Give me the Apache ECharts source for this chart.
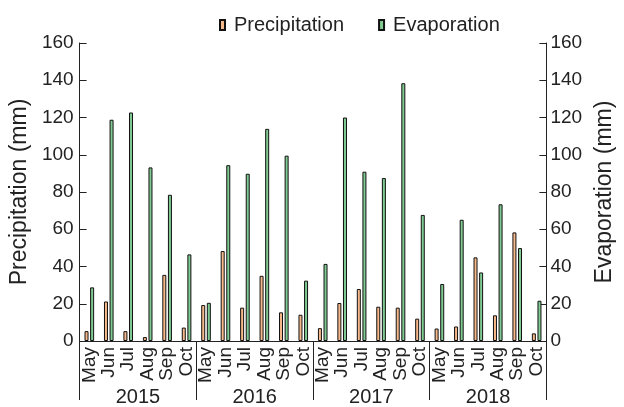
<!DOCTYPE html>
<html>
<head>
<meta charset="utf-8">
<script src="https://cdn.jsdelivr.net/npm/echarts@6/dist/echarts.min.js"></script>
<style>html,body{margin:0;padding:0;background:#fff;}#c{width:624px;height:407px;}</style>
</head>
<body>
<div id="c"></div>
<script>
var years = ['2015', '2016', '2017', '2018'];
var months = ['May', 'Jun', 'Jul', 'Aug', 'Sep', 'Oct'];
var precipitation = [5.3, 21.2, 5.3, 2.1, 35.5, 7.2,
                     19.3, 48.3, 17.9, 35.0, 15.4, 14.1,
                     6.9, 20.4, 27.9, 18.4, 17.9, 12.0,
                     6.7, 7.8, 44.9, 13.8, 58.3, 4.1];
var evaporation = [28.8, 118.8, 122.7, 93.2, 78.5, 46.5,
                   20.5, 94.4, 89.8, 113.9, 99.5, 32.4,
                   41.4, 120.0, 90.9, 87.5, 138.4, 67.7,
                   30.6, 65.1, 36.8, 73.4, 49.9, 21.6];
var yTicks = [0, 20, 40, 60, 80, 100, 120, 140, 160];

var categories = [];
years.forEach(function (y) { months.forEach(function (m) { categories.push(m); }); });

var FONT = "'Liberation Sans', Arial, sans-serif";
var TXT = '#222';
var chart = echarts.init(document.getElementById('c'), null, {renderer: 'canvas'});
var yAxisCommon = {
  type: 'value', min: yTicks[0], max: yTicks[yTicks.length - 1], interval: 20,
  splitLine: {show: false},
  axisLine: {show: true, lineStyle: {color: TXT, width: 1}},
  axisTick: {show: true, inside: true, length: 7, lineStyle: {color: TXT}},
  nameLocation: 'middle',
  nameTextStyle: {fontFamily: FONT, fontSize: 23, color: TXT},
  axisLabel: {fontFamily: FONT, fontSize: 19, color: TXT}
};
chart.setOption({
  animation: false,
  textStyle: {fontFamily: FONT},
  grid: {left: 73, right: 61, top: 43, bottom: 62},
  legend: {
    left: 214, top: 10, itemWidth: 5, itemHeight: 10, itemGap: 34,
    textStyle: {fontFamily: FONT, fontSize: 20, color: TXT, padding: [0, 0, 0, 4]},
    data: [
      {name: 'Precipitation', icon: 'rect'},
      {name: 'Evaporation', icon: 'rect'}
    ]
  },
  xAxis: [
    {
      type: 'category', data: categories, position: 'bottom',
      axisLine: {show: true, lineStyle: {color: TXT, width: 1}},
      axisTick: {show: false},
      axisLabel: {interval: 0, rotate: 90, margin: 6, fontFamily: FONT, fontSize: 19, color: TXT}
    },
    {
      type: 'category', data: years, position: 'bottom', boundaryGap: true,
      axisLine: {show: false},
      axisTick: {show: true, length: 59, interval: 0, lineStyle: {color: TXT}},
      axisLabel: {interval: 0, margin: 46, fontFamily: FONT, fontSize: 20, color: TXT}
    }
  ],
  yAxis: [
    Object.assign({}, yAxisCommon, {name: 'Precipitation (mm)', nameGap: 38, position: 'left',
      axisLabel: Object.assign({}, yAxisCommon.axisLabel, {margin: 6})}),
    Object.assign({}, yAxisCommon, {name: 'Evaporation (mm)', nameGap: 27, position: 'right',
      axisLabel: Object.assign({}, yAxisCommon.axisLabel, {margin: 4})})
  ],
  series: [
    {
      name: 'Precipitation', type: 'bar', xAxisIndex: 0, yAxisIndex: 0,
      data: precipitation, barWidth: 4, barGap: '40%',
      itemStyle: {color: '#f7b98a', borderColor: '#111', borderWidth: 1}
    },
    {
      name: 'Evaporation', type: 'bar', xAxisIndex: 0, yAxisIndex: 1,
      data: evaporation, barWidth: 4, barGap: '40%',
      itemStyle: {color: '#80cb92', borderColor: '#111', borderWidth: 1}
    }
  ]
});
</script>
</body>
</html>
